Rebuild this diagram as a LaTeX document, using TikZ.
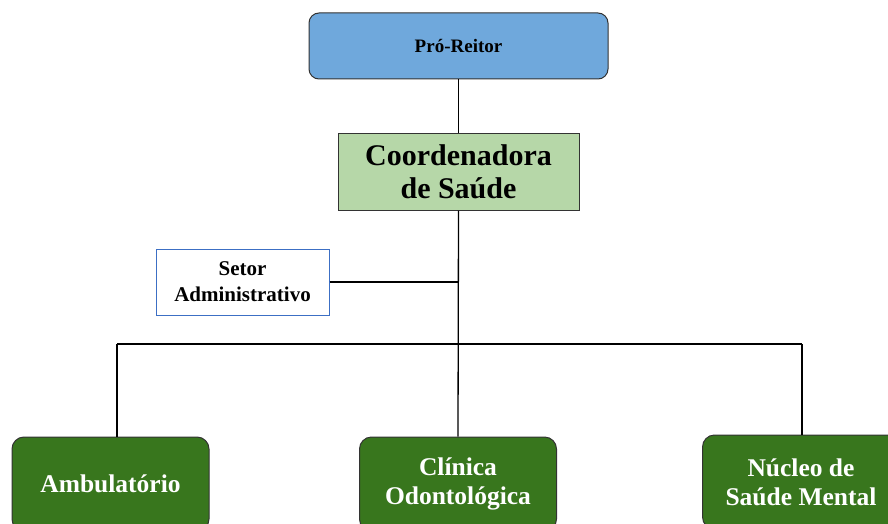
\documentclass[tikz,border=0pt]{standalone}
\usepackage{fontspec}
\setmainfont{Liberation Serif}
\usepackage{tikz}
\usetikzlibrary{calc}
\definecolor{reitorblue}{HTML}{6FA8DC}
\definecolor{coordgreen}{HTML}{B6D7A8}
\definecolor{unitgreen}{HTML}{38761D}
\definecolor{setorblue}{HTML}{3C6FC4}
\tikzset{
    reitor/.style={draw=black!80, line width=1pt, fill=reitorblue, rounded corners=10pt,
        minimum width=299pt, minimum height=66pt, font=\bfseries\fontsize{19}{22}\selectfont},
    coordbox/.style={draw=black!80, line width=1pt, fill=coordgreen, align=center,
        minimum width=241pt, minimum height=77pt, font=\bfseries\fontsize{30}{33}\selectfont},
    setorbox/.style={draw=setorblue, line width=1pt, fill=white, align=center,
        minimum width=173pt, minimum height=66pt, font=\bfseries\fontsize{21}{26}\selectfont},
    unit/.style={draw=black!80, line width=1pt, fill=unitgreen, text=white, rounded corners=12pt,
        align=center, minimum width=197pt, minimum height=94pt, font=\bfseries\fontsize{25.5}{29}\selectfont},
    link/.style={draw=black, line width=1.3pt}
}
\begin{document}
\begin{tikzpicture}[x=1pt, y=-1pt]
    \useasboundingbox (0,0) rectangle (888,524);
    \clip (0,0) rectangle (888,524);
    % topo
    \node[reitor] (proreitor) at (458.5,46) {Pró-Reitor};
    \node[coordbox] (coord) at (458.5,171.5) {Coordenadora\\de Saúde};
    \node[setorbox] (setor) at (242.5,282) {Setor\\Administrativo};
    % unidades
    \node[unit] (ambul) at (110.5,484) {Ambulatório};
    \node[unit] (clinica) at (458,484) {Clínica\\Odontológica};
    \node[unit] (nucleo) at (801,482) {Núcleo de\\Saúde Mental};
    % ligacoes
    \coordinate (busL) at (117,344);
    \coordinate (busR) at (802,344);
    \draw[link] (proreitor) -- (coord);
    \draw[link] (coord.south) -- (clinica.north);
    \draw[link] (setor.east) -- (setor.east -| coord.south);
    \draw[link] (busL) -- (busR);
    \draw[link] (busL) -- (busL |- ambul.north);
    \draw[link] (busR) -- (busR |- nucleo.north);
\end{tikzpicture}
\end{document}
